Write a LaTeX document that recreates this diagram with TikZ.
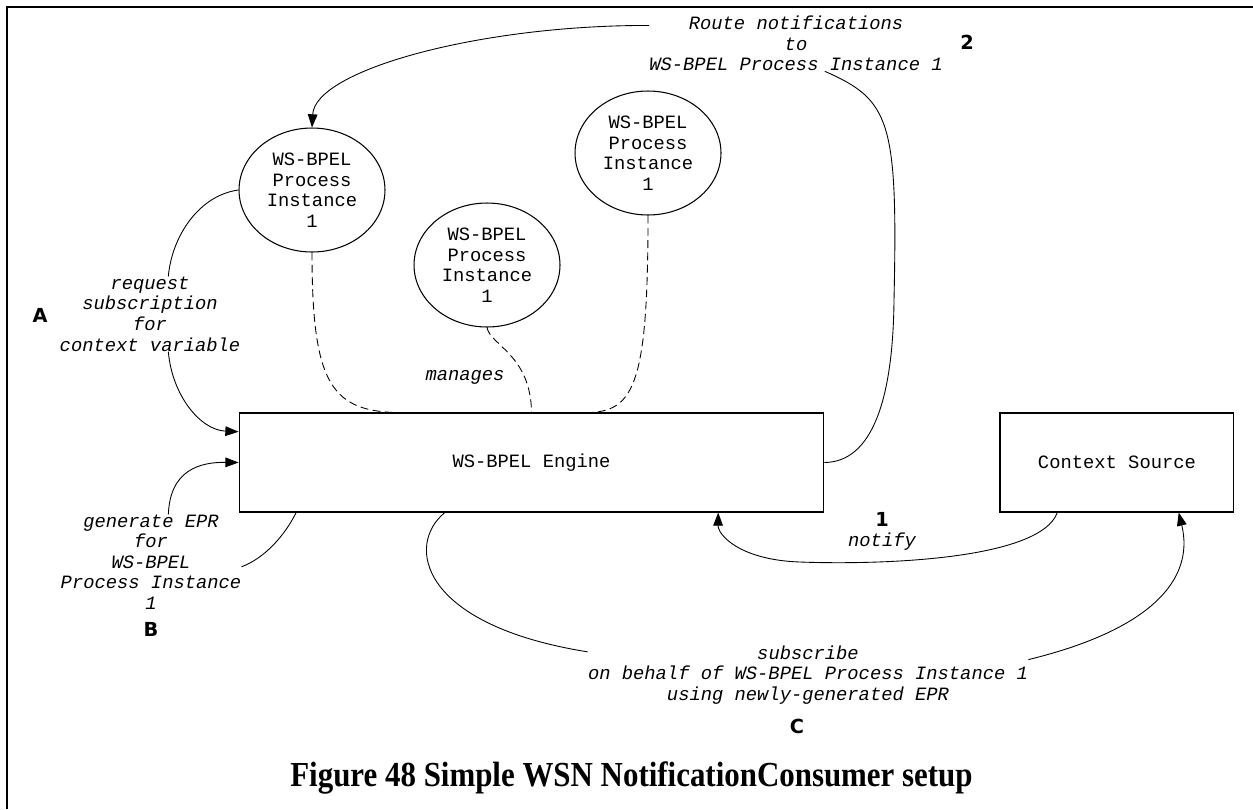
\documentclass[tikz,border=0pt]{standalone}
\usepackage{fontspec}
\setmonofont{Liberation Mono}
\newfontfamily\markfont{DejaVu Sans}
\newfontfamily\capfont[FakeStretch=0.88]{Liberation Serif}
\usetikzlibrary{positioning,arrows.meta,shapes.geometric}
\tikzstyle{instance} = [
ellipse,
minimum width=2.92cm,
minimum height=2.48cm,
inner sep=0pt,
align=center,
font=\ttfamily\fontsize{10.7}{11.7}\selectfont,
draw=black,
line width=0.6pt
]
\tikzstyle{component} = [
rectangle,
minimum height=1.98cm,
text centered,
font=\ttfamily\fontsize{10.7}{11.7}\selectfont,
draw=black,
line width=0.6pt
]
\tikzstyle{note} = [
align=center,
inner sep=0pt,
font=\ttfamily\itshape\fontsize{10.7}{11.7}\selectfont
]
\tikzstyle{letter} = [
inner sep=0pt,
font=\markfont\bfseries\fontsize{11}{12}\selectfont
]
\tikzstyle{link} = [
line width=0.5pt
]
\tikzstyle{arrow} = [
line width=0.5pt,
-{Triangle[length=7.5pt,width=5.5pt]}
]
\tikzstyle{managed} = [
line width=0.5pt,
dash pattern=on 4.5pt off 2.5pt
]
\begin{document}
\begin{tikzpicture}[x=0.02cm,y=-0.02cm]
					\useasboundingbox (0,0) rectangle (1253,809);
					\draw[line width=1.4pt] (7,809) -- (7,7) -- (1253,7);
					%Nodes
					\node[component,minimum width=11.7cm] (eng) at (531.5,462.5) {WS-BPEL Engine};
					\node[component,minimum width=4.68cm,right=3.5cm of eng] (ctx) {Context Source};
					\node[instance] (inst1) at (312,190) {WS-BPEL\\Process\\Instance\\1};
					\node[instance] (inst2) at (487,265) {WS-BPEL\\Process\\Instance\\1};
					\node[instance] (inst3) at (648,153) {WS-BPEL\\Process\\Instance\\1};
					%Labels
					\node[note] (route) at (796,43.5) {Route notifications\\to\\WS-BPEL Process Instance 1};
					\node[note] (request) at (150,314) {request\\subscription\\for\\context variable};
					\node[note] (generate) at (151,562) {generate EPR\\for\\WS-BPEL\\Process Instance\\1};
					\node[note] (subscribe) at (808,675) {subscribe\\on behalf of WS-BPEL Process Instance 1\\using newly-generated EPR};
					\node[note] (manages) at (465,377) {manages};
					\node[note] (notify) at (882,542) {notify};
					\node[letter] (stepA) at (40,315) {A};
					\node[letter] (stepB) at (151,629) {B};
					\node[letter] (stepC) at (797,726) {C};
					\node[letter] (step1) at (882,519) {1};
					\node[letter] (step2) at (967,42) {2};
					\node[font=\capfont\bfseries\fontsize{20}{23}\selectfont] (caption) at (631.5,778) {Figure 48 Simple WSN NotificationConsumer setup};
					%Arrows
					\draw[link] (eng.east) .. controls (872,462) and (893,400) .. (894,300) .. controls (898,120) and (890,100) .. (route.-44);
					\draw[arrow] (route.173.5) .. controls (480,25) and (315,70) .. (inst1.north);
					\draw[link] (inst1.west) .. controls (200,195) and (172,235) .. (request.64);
					\draw[arrow] (request.-64) .. controls (172,395) and (200,430) .. (eng.174.6);
					\draw[arrow] (generate.70) .. controls (170,470) and (200,462) .. (eng.west);
					\draw[link] (eng.-168.1) .. controls (285,535) and (265,558) .. (generate.-3);
					\draw[arrow] (ctx.-140) .. controls (1040,560) and (880,565) .. (800,562) .. controls (740,560) and (718,535) .. (eng.-15.8);
					\draw[link] (eng.-150.8) .. controls (405,545) and (420,625) .. (subscribe.174);
					\draw[arrow] (subscribe.4.4) .. controls (1150,630) and (1195,580) .. (ctx.-39.1);
					\draw[managed] (inst1.south) .. controls (312,380) and (330,410) .. (eng.160.7);
					\draw[managed] (inst2.south) .. controls (490,345) and (531,355) .. (eng.north);
					\draw[managed] (inst3.south) .. controls (648,380) and (635,410) .. (eng.40.2);
				\end{tikzpicture}
\end{document}
